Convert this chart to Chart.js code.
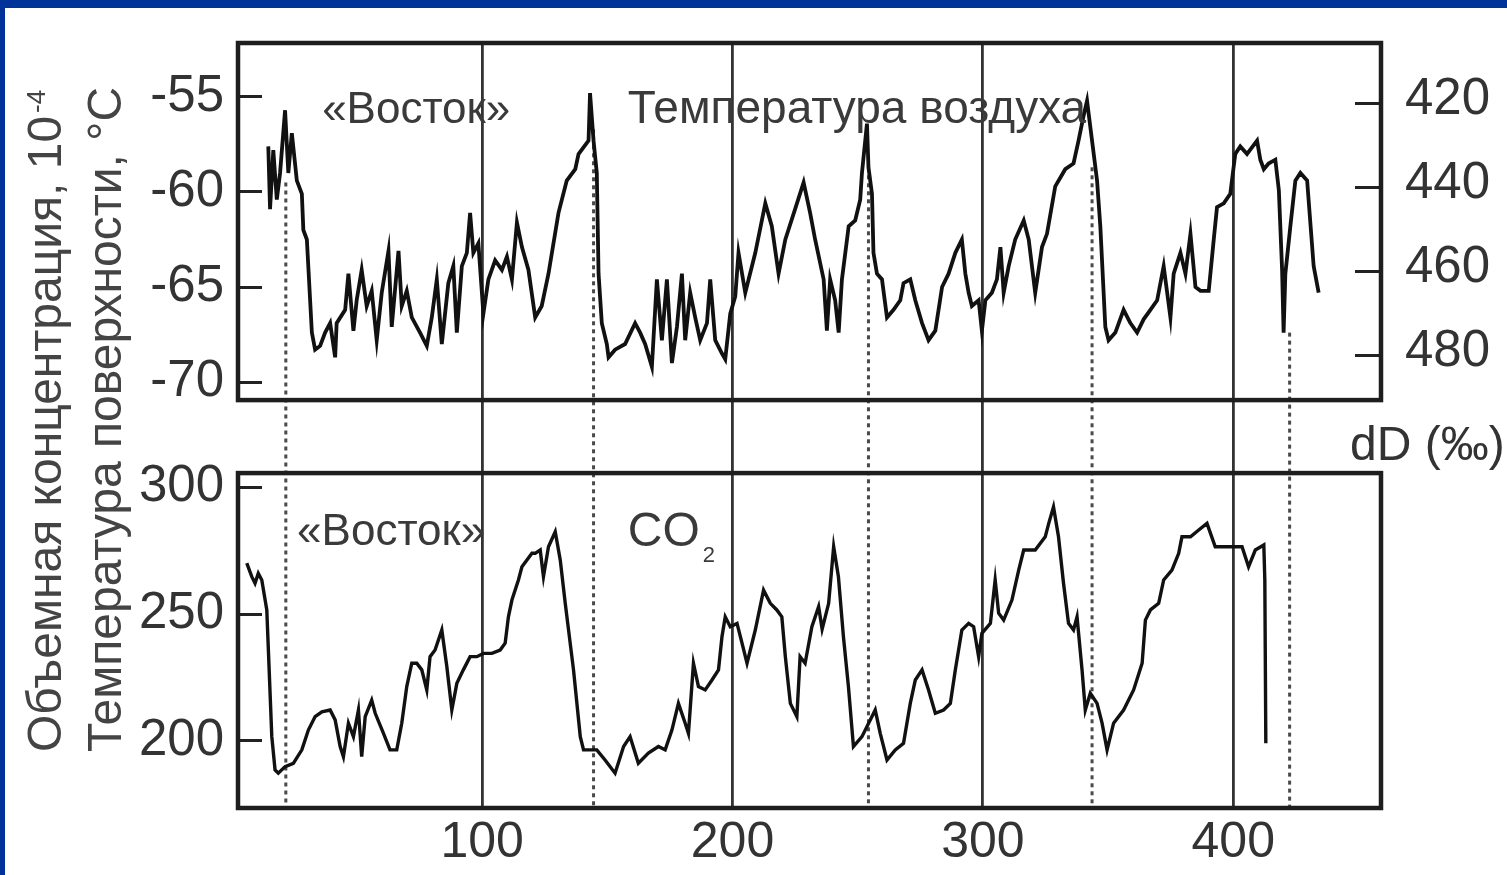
<!DOCTYPE html>
<html>
<head>
<meta charset="utf-8">
<script src="https://cdn.jsdelivr.net/npm/chart.js@4.4.0/dist/chart.umd.min.js"></script>
<style>
  html, body { margin: 0; padding: 0; background: #fff; }
  #wrap { position: relative; width: 1507px; height: 875px; overflow: hidden; }
  #barTop { position: absolute; left: 0; top: 0; width: 1507px; height: 8px; background: #003399; }
  #barLeft { position: absolute; left: 0; top: 0; width: 5px; height: 875px; background: #003399; }
  canvas { position: absolute; left: 0; top: 0; }
</style>
</head>
<body>
<div id="wrap">
  <canvas id="vostokChart" width="1507" height="875"></canvas>
  <div id="barTop"></div>
  <div id="barLeft"></div>
</div>
<script>
// возраст, тыс. лет назад
const tempAge = [14.6,15.3,16.6,18.0,19.3,21.3,22.6,24.0,26.0,28.0,28.6,30.0,32.0,33.3,35.3,37.3,39.3,41.3,41.9,45.3,
  46.6,48.6,49.9,51.9,53.9,55.9,57.9,59.9,62.6,63.9,66.6,67.9,69.9,71.9,75.2,77.9,79.9,81.9,83.9,86.5,
  88.5,89.9,91.9,93.9,95.2,96.5,98.5,100.5,102.5,105.2,107.9,109.9,111.9,113.9,115.9,118.5,121.2,123.8,126.5,130.5,
  133.8,137.2,138.5,142.5,143.1,144.5,145.8,146.5,147.8,149.8,150.5,153.1,157.1,161.1,163.1,165.1,167.8,169.8,171.8,173.8,
  175.8,177.8,179.8,181.1,183.1,185.1,187.1,189.8,191.1,193.1,195.8,197.1,199.1,201.1,202.4,205.1,209.1,213.1,215.7,218.4,
  221.1,225.0,228.4,231.0,233.0,236.4,237.7,239.0,241.0,242.4,243.7,246.4,249.0,251.0,251.7,253.7,254.3,255.7,256.3,257.7,
  259.7,261.7,264.3,267.0,268.3,271.0,273.0,275.7,278.3,281.0,283.7,286.3,289.0,291.6,293.0,294.3,295.6,298.3,299.6,301.0,
  303.6,305.6,307.0,308.3,310.3,312.9,316.3,318.3,320.9,323.6,325.6,328.9,332.9,336.2,338.2,340.2,341.6,343.6,345.6,346.9,
  348.9,350.2,352.9,356.2,358.9,361.6,364.2,366.9,369.6,372.2,374.9,376.2,378.9,380.9,382.9,384.9,386.9,390.2,392.2,393.5,
  396.2,398.8,400.8,402.8,405.5,409.5,410.8,412.2,414.1,416.8,418.2,419.5,420.1,420.8,422.8,424.8,426.8,429.5,432.1,434.1];
// температура поверхности, °C
const tempValues = [-57.6,-60.9,-57.8,-60.4,-59.0,-55.7,-59.0,-56.9,-59.4,-60.1,-62.0,-62.5,-67.4,-68.3,-68.1,-67.4,-66.9,-68.7,-66.9,-66.2,
  -64.3,-67.3,-65.7,-64.1,-66.0,-65.2,-67.8,-65.3,-63.1,-67.1,-63.1,-66.0,-65.2,-66.6,-67.4,-68.1,-66.6,-64.6,-68.0,-64.8,
  -63.9,-67.4,-63.9,-63.2,-61.1,-63.2,-62.7,-66.4,-64.6,-63.6,-64.1,-63.4,-64.6,-61.6,-62.9,-64.1,-66.6,-66.0,-64.3,-61.1,
  -59.4,-58.8,-58.0,-57.3,-54.8,-57.3,-59.0,-64.3,-66.9,-68.0,-68.7,-68.3,-68.0,-66.9,-67.4,-68.0,-69.2,-64.6,-67.8,-64.6,
  -69.0,-67.1,-64.3,-67.8,-65.3,-66.6,-67.8,-66.9,-64.6,-67.8,-68.5,-68.8,-66.4,-65.5,-63.2,-65.3,-63.2,-60.6,-61.8,-64.3,
  -62.5,-60.9,-59.5,-61.1,-62.5,-64.6,-67.3,-64.6,-65.7,-67.4,-64.6,-61.8,-61.5,-60.4,-59.0,-56.4,-58.7,-60.1,-63.2,-64.3,
  -64.6,-66.6,-66.2,-65.7,-64.8,-64.6,-65.7,-66.9,-67.8,-67.3,-65.0,-64.3,-63.2,-62.5,-64.3,-65.3,-66.0,-65.7,-67.3,-65.7,
  -65.3,-64.6,-62.9,-65.3,-63.9,-62.5,-61.5,-62.5,-65.3,-62.9,-62.2,-59.7,-58.8,-58.5,-57.3,-56.0,-55.2,-57.3,-59.4,-61.8,
  -67.1,-67.8,-67.4,-66.2,-66.9,-67.4,-66.7,-66.2,-65.7,-63.9,-66.6,-64.3,-63.2,-64.3,-62.2,-65.0,-65.2,-65.2,-62.5,-60.8,
  -60.6,-60.1,-58.0,-57.6,-58.0,-57.3,-58.3,-58.8,-58.5,-58.3,-59.9,-64.1,-67.4,-64.3,-61.8,-59.4,-59.0,-59.4,-63.9,-65.3];

const co2Age = [6.0,8.0,9.3,10.6,12.0,14.0,16.0,17.3,18.6,21.3,24.6,28.0,30.6,33.3,36.0,39.3,41.3,43.3,44.6,46.6,
  48.6,50.6,51.9,53.3,55.9,57.3,60.6,63.2,65.9,67.9,69.9,71.9,73.9,75.9,77.9,79.2,81.2,83.9,85.9,87.9,
  89.9,92.5,95.2,97.9,100.5,103.9,107.2,109.2,110.5,111.9,114.5,115.9,119.9,121.2,123.2,124.5,126.5,129.2,131.2,133.2,
  136.5,139.2,140.5,142.5,145.8,149.1,153.1,156.5,159.1,162.4,166.4,170.4,173.1,175.8,178.4,181.1,182.4,184.4,186.4,189.1,
  191.8,194.4,195.8,197.1,199.1,201.8,203.8,205.8,209.1,212.4,215.1,217.7,219.7,221.1,223.1,225.7,227.0,229.0,231.7,234.4,
  235.8,238.4,240.4,242.3,244.3,246.3,248.3,251.7,255.7,257.0,259.0,261.7,265.0,268.3,271.0,273.0,275.7,278.3,281.0,284.3,
  287.0,289.0,291.6,294.3,296.3,298.3,299.6,303.0,304.9,306.3,308.3,311.6,314.3,316.3,320.9,324.9,326.3,328.2,330.2,332.2,
  334.2,336.2,337.6,339.6,340.9,342.9,345.6,347.6,349.6,352.2,356.2,360.2,363.6,364.9,366.9,370.2,372.2,375.5,378.2,379.5,
  382.9,386.2,389.5,392.8,398.8,403.5,406.1,408.8,412.2,412.6,413.0];
// CO2, объемная концентрация
const co2Values = [270.0,264.7,262.1,266.0,263.4,251.6,201.7,188.6,187.3,189.9,191.2,196.5,204.3,209.6,211.5,212.2,208.3,197.8,193.8,207.0,
  201.7,212.2,193.8,209.6,216.1,210.9,203.0,196.5,196.5,207.0,221.4,230.6,230.6,228.0,220.1,233.2,235.8,243.7,229.3,212.2,
  222.7,228.0,233.2,233.2,234.5,234.5,235.8,238.5,248.9,255.5,263.4,268.6,273.9,273.9,275.2,264.7,276.5,282.4,271.3,254.2,
  228.0,201.7,196.5,196.5,196.5,192.5,187.3,197.8,201.7,191.2,195.2,197.8,196.5,204.3,214.8,207.0,203.0,230.6,221.4,220.1,
  224.0,228.0,241.1,248.9,245.0,246.3,238.5,230.6,243.7,259.4,254.2,251.6,248.9,233.2,214.8,209.6,233.2,230.6,245.0,252.9,
  244.0,254.2,276.5,264.7,241.1,221.4,197.8,201.7,209.6,212.2,203.0,192.5,196.5,199.1,214.8,224.0,228.0,220.1,210.9,212.2,
  214.8,228.0,243.7,246.3,245.0,233.2,242.4,246.3,263.4,250.3,247.6,255.5,267.3,275.2,275.2,280.4,285.7,292.2,280.4,262.1,
  246.3,243.7,248.9,228.0,212.2,218.8,214.8,207.0,196.5,207.0,212.2,220.1,230.6,247.6,251.6,254.2,263.4,267.3,273.9,280.4,
  280.4,283.1,285.7,276.5,276.5,276.5,268.6,275.2,277.2,263.4,199.1];

// пунктир: окончания оледенений
const terminations = [21.6, 144.5, 254.3, 343.6, 422.5];
const terminationTemp = [-59.5, -56.7, -58.7, -58.7, -67.4];

const xTicks = [100, 200, 300, 400];
const tempTicks = [-55, -60, -65, -70];
const co2Ticks = [300, 275, 250, 225, 200];
const co2Labels = [300, 250, 200];
const dDTicks = [420, 440, 460, 480];

const FONT = "'Liberation Sans', Arial, sans-serif";
const INK = '#333';

const vostokDecor = {
  id: 'vostokDecor',
  beforeDatasetsDraw(chart) {
    const { ctx, chartArea } = chart;
    const { x, yT } = chart.scales;
    ctx.save();
    ctx.strokeStyle = '#4a4a4a';
    ctx.lineWidth = 3;
    ctx.setLineDash([4, 4]);
    terminations.forEach((age, i) => {
      const px = x.getPixelForValue(age);
      ctx.beginPath();
      ctx.moveTo(px, yT.getPixelForValue(terminationTemp[i]));
      ctx.lineTo(px, chartArea.bottom - 2);
      ctx.stroke();
    });
    ctx.restore();
  },
  afterDraw(chart) {
    const { ctx, chartArea } = chart;
    const { x, yT, yC } = chart.scales;
    const L = chartArea.left, R = chartArea.right;

    // рамки двух панелей
    ctx.save();
    ctx.strokeStyle = '#1e1e1e';
    ctx.lineWidth = 4.5;
    const topBottom = yT.getPixelForValue(-70.95);
    ctx.strokeRect(L, chartArea.top, R - L, topBottom - chartArea.top);
    const lowTop = yC.getPixelForValue(305.5);
    ctx.strokeRect(L, lowTop, R - L, chartArea.bottom - lowTop);

    // надписи
    ctx.fillStyle = '#3a3a3a';
    ctx.textBaseline = 'alphabetic';
    ctx.textAlign = 'left';
    ctx.font = '44px ' + FONT;
    ctx.fillText('«Восток»', x.getPixelForValue(36.1), yT.getPixelForValue(-56.37));
    ctx.font = '46px ' + FONT;
    ctx.fillText('Температура воздуха', x.getPixelForValue(158.2), yT.getPixelForValue(-56.37));
    ctx.font = '44px ' + FONT;
    ctx.fillText('«Восток»', x.getPixelForValue(26.1), yC.getPixelForValue(277.2));
    ctx.font = '48px ' + FONT;
    const coX = x.getPixelForValue(158.2), coY = yC.getPixelForValue(276.8);
    ctx.fillText('CO', coX, coY);
    const coW = ctx.measureText('CO').width;
    ctx.font = '22px ' + FONT;
    ctx.fillText('2', coX + coW + 3, coY + 16);

    // подпись правой оси
    ctx.fillStyle = INK;
    ctx.font = '48px ' + FONT;
    ctx.fillText('dD (‰)', 1350, 460);

    // подписи левой оси (повернутые)
    ctx.fillStyle = '#444';
    ctx.save();
    ctx.translate(61, 752);
    ctx.rotate(-Math.PI / 2);
    ctx.font = '48px ' + FONT;
    const main = 'Объемная концентрация, 10';
    ctx.fillText(main, 0, 0);
    const w = ctx.measureText(main).width;
    ctx.font = '26px ' + FONT;
    ctx.fillText('-4', w + 3, -16);
    ctx.restore();

    ctx.save();
    ctx.translate(121, 752);
    ctx.rotate(-Math.PI / 2);
    ctx.font = '48px ' + FONT;
    ctx.fillText('Температура поверхности, °C', 0, 0);
    ctx.restore();

    ctx.restore();
  }
};

function fixedTicks(values) {
  return scale => { scale.ticks = values.map(v => ({ value: v })); };
}

// фиксированная ширина оси без автоматических отступов под подписи
function fixWidth(w) {
  return s => { s.width = w; s.paddingTop = 0; s.paddingBottom = 0; };
}

const tickFont = { family: FONT, size: 51 };

new Chart(document.getElementById('vostokChart').getContext('2d'), {
  type: 'line',
  data: {
    datasets: [
      {
        label: 'Температура воздуха',
        data: tempAge.map((a, i) => ({ x: a, y: tempValues[i] })),
        yAxisID: 'yT',
        borderColor: '#111',
        borderWidth: 3.8,
        pointRadius: 0,
        tension: 0
      },
      {
        label: 'CO2',
        data: co2Age.map((a, i) => ({ x: a, y: co2Values[i] })),
        yAxisID: 'yC',
        borderColor: '#111',
        borderWidth: 3.4,
        pointRadius: 0,
        tension: 0
      }
    ]
  },
  options: {
    responsive: false,
    animation: false,
    layout: { padding: { top: 43, left: 0, right: 0, bottom: 0 } },
    plugins: { legend: { display: false }, tooltip: { enabled: false } },
    scales: {
      x: {
        type: 'linear',
        min: 2.5,
        max: 459,
        afterBuildTicks: fixedTicks(xTicks),
        afterFit: s => { s.height = 67; s.paddingLeft = 0; s.paddingRight = 0; },
        grid: { color: '#333', lineWidth: 2.8, drawTicks: false },
        border: { display: false },
        ticks: { font: { family: FONT, size: 50 }, color: INK, padding: 5, maxRotation: 0 }
      },
      yC: {
        type: 'linear',
        position: 'left',
        stack: 'left',
        stackWeight: 372,
        weight: 0,
        min: 173.6,
        max: 320.1,
        afterBuildTicks: fixedTicks(co2Ticks),
        afterFit: fixWidth(238),
        grid: { drawOnChartArea: false, drawTicks: true, tickLength: -24, color: '#222', lineWidth: 3 },
        border: { display: false },
        ticks: {
          font: tickFont, color: INK, padding: 38,
          callback: v => co2Labels.includes(v) ? String(v) : ''
        }
      },
      yT: {
        type: 'linear',
        position: 'left',
        stack: 'left',
        stackWeight: 393,
        weight: 1,
        min: -72.84,
        max: -52.16,
        afterBuildTicks: fixedTicks(tempTicks),
        afterFit: fixWidth(238),
        grid: { drawOnChartArea: false, drawTicks: true, tickLength: -24, color: '#222', lineWidth: 3 },
        border: { display: false },
        ticks: { font: tickFont, color: INK, padding: 38, callback: v => String(v) }
      },
      yD: {
        type: 'linear',
        position: 'right',
        reverse: true,
        min: 405.5,
        max: 587.6,
        afterBuildTicks: fixedTicks(dDTicks),
        afterFit: fixWidth(126),
        grid: { drawOnChartArea: false, drawTicks: true, tickLength: -26, color: '#222', lineWidth: 3 },
        border: { display: false },
        ticks: { font: tickFont, color: INK, padding: 50, labelOffset: -4, callback: v => String(v) }
      }
    }
  },
  plugins: [vostokDecor]
});
</script>
</body>
</html>
